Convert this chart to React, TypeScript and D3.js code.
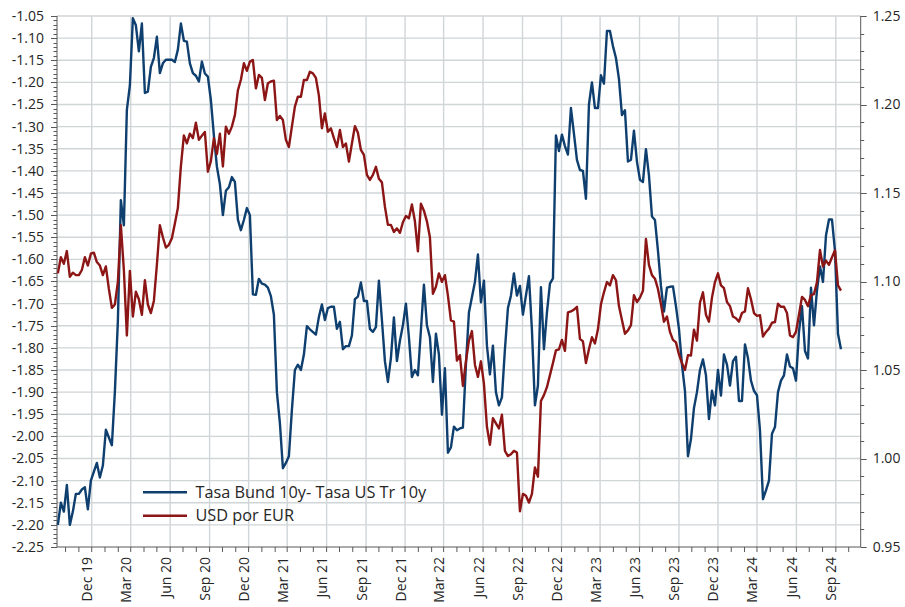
import * as d3 from "d3";
import { useEffect, useRef } from "react";

// weekly observations, week 0 = 13 Sep 2019
const START = new Date(2019, 8, 13);

// Tasa Bund 10y - Tasa US Tr 10y  [week, value]
const spread: [number, number][] = [
  [0,-2.20],[1,-2.15],[2,-2.17],[3,-2.11],[4,-2.20],[5,-2.17],[6,-2.13],[7,-2.13],[8,-2.12],[9,-2.115],
  [10,-2.165],[11,-2.10],[13,-2.06],[14,-2.093],[15,-2.066],[16,-1.985],[18,-2.02],[19,-1.90],[20,-1.74],
  [21,-1.466],[22,-1.523],[23,-1.262],[24,-1.207],[25,-1.055],[26,-1.071],[27,-1.13],[28,-1.067],[29,-1.224],
  [30,-1.221],[31,-1.165],[32,-1.145],[33,-1.097],[34,-1.179],[35,-1.157],[36,-1.149],[38,-1.149],[39,-1.154],
  [40,-1.126],[41,-1.067],[42,-1.106],[43,-1.108],[44,-1.157],[45,-1.179],[46,-1.185],[47,-1.198],[48,-1.153],
  [49,-1.18],[50,-1.187],[51,-1.24],[52,-1.32],[53,-1.39],[54,-1.43],[55,-1.50],[56,-1.445],[57,-1.437],
  [58,-1.414],[59,-1.425],[60,-1.51],[61,-1.534],[62,-1.511],[63,-1.484],[64,-1.50],[65,-1.679],[66,-1.68],
  [67,-1.644],[68,-1.655],[69,-1.657],[70,-1.664],[71,-1.683],[72,-1.725],[73,-1.90],[74,-1.97],[75,-2.072],
  [76,-2.06],[77,-2.045],[78,-1.94],[79,-1.85],[80,-1.838],[81,-1.85],[82,-1.815],[83,-1.751],[84,-1.758],
  [86,-1.77],[87,-1.73],[88,-1.702],[89,-1.737],[90,-1.71],[91,-1.707],[92,-1.707],[93,-1.757],[94,-1.741],
  [95,-1.803],[96,-1.796],[97,-1.796],[98,-1.772],[99,-1.69],[100,-1.684],[101,-1.652],[102,-1.694],[103,-1.694],
  [104,-1.757],[105,-1.764],[106,-1.753],[107,-1.648],[108,-1.737],[109,-1.83],[110,-1.877],[111,-1.823],
  [112,-1.731],[113,-1.83],[114,-1.784],[115,-1.749],[116,-1.70],[117,-1.776],[118,-1.866],[119,-1.85],
  [120,-1.862],[121,-1.76],[122,-1.657],[123,-1.749],[124,-1.776],[125,-1.877],[126,-1.768],[127,-1.815],
  [128,-1.951],[129,-1.846],[130,-2.037],[131,-2.025],[132,-1.978],[133,-1.986],[134,-1.982],[135,-1.98],
  [136,-1.838],[137,-1.72],[139,-1.651],[140,-1.589],[141,-1.697],[142,-1.648],[143,-1.795],[144,-1.86],
  [145,-1.795],[146,-1.90],[147,-1.93],[148,-1.912],[149,-1.803],[150,-1.71],[151,-1.682],[152,-1.632],
  [153,-1.682],[154,-1.66],[155,-1.725],[156,-1.682],[157,-1.638],[158,-1.76],[159,-1.93],[160,-1.885],
  [161,-1.663],[162,-1.803],[163,-1.72],[164,-1.655],[165,-1.643],[166,-1.32],[167,-1.355],[168,-1.318],
  [169,-1.344],[170,-1.363],[171,-1.258],[172,-1.316],[173,-1.375],[174,-1.398],[175,-1.40],[176,-1.463],
  [177,-1.25],[178,-1.20],[179,-1.258],[180,-1.258],[181,-1.184],[182,-1.203],[183,-1.084],[184,-1.084],
  [185,-1.118],[186,-1.145],[187,-1.192],[188,-1.274],[189,-1.263],[190,-1.379],[191,-1.375],[192,-1.309],
  [193,-1.379],[194,-1.42],[195,-1.425],[196,-1.351],[197,-1.41],[198,-1.503],[199,-1.511],[200,-1.58],
  [201,-1.66],[202,-1.718],[203,-1.664],[204,-1.662],[205,-1.661],[206,-1.706],[207,-1.757],[208,-1.838],
  [209,-1.897],[210,-2.045],[211,-2.006],[212,-1.936],[213,-1.90],[214,-1.85],[215,-1.826],[216,-1.862],
  [217,-1.961],[218,-1.897],[219,-1.93],[220,-1.85],[221,-1.908],[222,-1.815],[223,-1.838],[224,-1.885],
  [225,-1.83],[226,-1.82],[227,-1.92],[228,-1.92],[229,-1.792],[230,-1.823],[231,-1.874],[232,-1.897],
  [233,-1.907],[234,-1.986],[235,-2.142],[236,-2.122],[237,-2.10],[238,-1.994],[239,-1.979],[240,-1.90],
  [241,-1.874],[242,-1.862],[243,-1.815],[244,-1.842],[245,-1.846],[246,-1.874],[247,-1.764],[248,-1.706],
  [249,-1.807],[250,-1.824],[251,-1.664],[252,-1.749],[253,-1.67],[254,-1.616],[255,-1.651],[256,-1.546],
  [257,-1.51],[258,-1.51],[259,-1.581],[260,-1.768],[261,-1.803],
];

// USD por EUR  [week, value]
const eurusd: [number, number][] = [
  [0,1.1046],[1,1.1137],[2,1.110],[3,1.1172],[4,1.1026],[5,1.105],[6,1.1036],[7,1.1036],[8,1.1065],[9,1.1137],
  [10,1.109],[11,1.1157],[12,1.1163],[13,1.111],[14,1.109],[15,1.1036],[16,1.1085],[17,1.0958],[18,1.0851],
  [19,1.087],[20,1.0997],[21,1.1318],[22,1.1065],[23,1.0695],[24,1.106],[25,1.0802],[26,1.0942],[27,1.09],
  [28,1.0812],[29,1.1007],[30,1.087],[31,1.0822],[32,1.089],[33,1.1094],[34,1.1318],[35,1.125],[36,1.1192],
  [37,1.1207],[38,1.1244],[39,1.1328],[40,1.1416],[41,1.165],[42,1.1825],[43,1.178],[44,1.1835],[45,1.181],
  [46,1.1897],[47,1.18],[48,1.1824],[49,1.1845],[50,1.162],[51,1.168],[52,1.181],[53,1.172],[54,1.1835],
  [55,1.165],[56,1.1875],[57,1.1835],[58,1.1875],[59,1.194],[60,1.208],[61,1.214],[62,1.2233],[63,1.219],
  [64,1.2242],[65,1.2251],[66,1.2091],[67,1.2167],[68,1.215],[69,1.2025],[70,1.212],[71,1.213],[72,1.2135],
  [73,1.1912],[74,1.1935],[75,1.1912],[76,1.18],[77,1.176],[78,1.1875],[79,1.1988],[80,1.2044],[81,1.2044],
  [82,1.2138],[83,1.2138],[84,1.2185],[85,1.2176],[86,1.215],[87,1.205],[88,1.1866],[89,1.195],[90,1.1846],
  [91,1.1865],[92,1.181],[93,1.176],[94,1.1856],[95,1.176],[96,1.178],[97,1.1677],[98,1.178],[99,1.1878],
  [100,1.184],[101,1.1743],[102,1.1715],[103,1.1602],[104,1.1574],[105,1.1602],[106,1.1648],[107,1.158],
  [108,1.156],[109,1.1423],[110,1.132],[111,1.132],[112,1.128],[113,1.130],[114,1.1275],[115,1.1335],
  [116,1.137],[117,1.1357],[118,1.1435],[119,1.134],[120,1.117],[121,1.144],[122,1.140],[123,1.134],
  [124,1.125],[125,1.093],[126,1.097],[127,1.1046],[128,1.0998],[129,1.1036],[130,1.092],[131,1.078],
  [132,1.0773],[133,1.0553],[134,1.0584],[135,1.041],[136,1.0549],[137,1.0666],[138,1.072],[139,1.053],
  [140,1.0461],[141,1.0549],[142,1.0423],[143,1.0179],[144,1.0078],[145,1.0228],[146,1.0199],[147,1.017],
  [148,1.0247],[149,1.0043],[150,1.0014],[151,1.0024],[152,1.0043],[153,1.0034],[154,0.9702],[155,0.98],
  [156,0.979],[157,0.9751],[158,0.98],[159,0.995],[160,0.9897],[161,1.0325],[162,1.0358],[163,1.0403],
  [164,1.0471],[165,1.0539],[166,1.0611],[167,1.0617],[168,1.067],[169,1.0608],[170,1.0826],[171,1.0831],
  [172,1.0841],[173,1.0857],[174,1.0676],[175,1.0662],[176,1.0539],[177,1.0617],[178,1.0685],[179,1.065],
  [180,1.073],[181,1.0871],[182,1.0939],[183,1.0997],[184,1.0978],[185,1.1036],[186,1.1007],[187,1.0861],
  [188,1.0783],[189,1.0705],[190,1.0724],[191,1.0754],[192,1.0923],[193,1.0884],[194,1.0909],[195,1.0948],
  [196,1.124],[197,1.1094],[198,1.1036],[199,1.1016],[200,1.0958],[201,1.0871],[202,1.0773],[203,1.0802],
  [204,1.0715],[205,1.067],[206,1.0656],[207,1.0588],[208,1.0539],[209,1.05],[210,1.0584],[211,1.0582],
  [212,1.0728],[213,1.0666],[214,1.088],[215,1.0939],[216,1.0812],[217,1.0773],[218,1.0909],[219,1.0997],
  [220,1.1046],[221,1.0978],[222,1.0962],[223,1.0884],[224,1.0861],[225,1.0802],[226,1.0792],[227,1.0773],
  [228,1.0822],[229,1.0831],[230,1.0962],[231,1.09],[232,1.0822],[233,1.0806],[234,1.081],[235,1.0689],
  [236,1.0715],[237,1.0734],[238,1.0767],[239,1.0771],[240,1.0874],[241,1.0857],[242,1.0857],[243,1.0822],
  [244,1.0695],[245,1.0686],[246,1.0715],[247,1.0812],[248,1.0913],[249,1.0896],[250,1.0861],[251,1.0923],
  [252,1.0929],[253,1.0997],[254,1.1178],[255,1.1085],[256,1.1118],[257,1.1094],[258,1.1137],[259,1.1176],
  [260,1.0978],[261,1.0948],
];

const seriesNames = ["Tasa Bund 10y- Tasa US Tr 10y", "USD por EUR"];
const monthNames = ["Jan", "Feb", "Mar", "Apr", "May", "Jun", "Jul", "Aug", "Sep", "Oct", "Nov", "Dec"];

const BLUE = "#0e3f6f";
const RED = "#8c1515";
const GRID = "#d0d5d8";
const AXIS = "#595959";
const FONT = "'Open Sans', sans-serif";

export default function App() {
  const ref = useRef<SVGSVGElement>(null);
  const width = 905;
  const height = 607;
  const margin = { top: 16, right: 44.3, bottom: 60, left: 57 };

  useEffect(() => {
    const svg = d3.select(ref.current);
    svg.selectAll("*").remove();

    const x = d3
      .scaleTime()
      .domain([new Date(2019, 8, 11), new Date(2024, 9, 29)])
      .range([margin.left, width - margin.right]);
    const yL = d3.scaleLinear().domain([-2.25, -1.05]).range([height - margin.bottom, margin.top]);
    const yR = d3.scaleLinear().domain([0.95, 1.25]).range([height - margin.bottom, margin.top]);
    const bottom = height - margin.bottom;
    const left = margin.left;
    const right = width - margin.right;

    const date = (w: number) => d3.timeWeek.offset(START, w);
    const months = d3.timeMonth.range(new Date(2019, 9, 1), new Date(2024, 9, 2));
    const quarters = months.filter((m) => m.getMonth() % 3 === 2);

    const g = svg.append("g");

    // gridlines
    const leftTicks = d3.range(0, 25).map((i) => -2.25 + i * 0.05);
    g.selectAll(".hgrid")
      .data(leftTicks.slice(1))
      .join("line")
      .attr("x1", left)
      .attr("x2", right)
      .attr("y1", (d) => yL(d))
      .attr("y2", (d) => yL(d))
      .attr("stroke", GRID)
      .attr("stroke-width", 1.4);
    g.selectAll(".vgrid")
      .data(quarters)
      .join("line")
      .attr("x1", (d) => x(d))
      .attr("x2", (d) => x(d))
      .attr("y1", margin.top)
      .attr("y2", bottom)
      .attr("stroke", GRID)
      .attr("stroke-width", 1.4);

    // axes
    const ax = svg.append("g").attr("stroke", AXIS).attr("stroke-width", 1);
    ax.append("line").attr("x1", left).attr("x2", left).attr("y1", margin.top).attr("y2", bottom);
    ax.append("line").attr("x1", right).attr("x2", right).attr("y1", margin.top).attr("y2", bottom);
    ax.append("line").attr("x1", left).attr("x2", right).attr("y1", bottom).attr("y2", bottom);

    const leftMinor = d3.range(0, 121).map((i) => -2.25 + i * 0.01);
    ax.selectAll(".lminor")
      .data(leftMinor)
      .join("line")
      .attr("x1", (_, i) => left - (i % 5 === 0 ? 6 : 3.5))
      .attr("x2", left)
      .attr("y1", (d) => Math.round(yL(d)) + 0.5)
      .attr("y2", (d) => Math.round(yL(d)) + 0.5);
    const rightMinor = d3.range(0, 31).map((i) => 0.95 + i * 0.01);
    ax.selectAll(".rminor")
      .data(rightMinor)
      .join("line")
      .attr("x1", right)
      .attr("x2", (_, i) => right + (i % 5 === 0 ? 6 : 3.5))
      .attr("y1", (d) => Math.round(yR(d)) + 0.5)
      .attr("y2", (d) => Math.round(yR(d)) + 0.5);
    ax.selectAll(".xtick")
      .data(months)
      .join("line")
      .attr("x1", (d) => x(d))
      .attr("x2", (d) => x(d))
      .attr("y1", bottom)
      .attr("y2", bottom + 5);

    const txt = svg.append("g").attr("font-family", FONT).attr("font-size", 14).attr("fill", "#262626");
    txt.selectAll(".lt")
      .data(leftTicks)
      .join("text")
      .attr("x", left - 13)
      .attr("y", (d) => yL(d))
      .attr("dy", "0.35em")
      .attr("text-anchor", "end")
      .text((d) => d3.format(".2f")(d).replace("−", "-"));
    const rightTicks = d3.range(0, 7).map((i) => 0.95 + i * 0.05);
    txt.selectAll(".rt")
      .data(rightTicks)
      .join("text")
      .attr("x", right + 12)
      .attr("y", (d) => yR(d))
      .attr("dy", "0.35em")
      .text((d) => d3.format(".2f")(d));
    txt.selectAll(".xt")
      .data(quarters)
      .join("text")
      .attr("transform", (d) => `translate(${x(d) + 0.5},${bottom + 10}) rotate(-90)`)
      .attr("text-anchor", "end")
      .text((d) => `${monthNames[d.getMonth()]} ${String(d.getFullYear()).slice(2)}`);

    // lines
    const lineL = d3
      .line<[number, number]>()
      .x((d) => x(date(d[0])))
      .y((d) => yL(d[1]));
    const lineR = d3
      .line<[number, number]>()
      .x((d) => x(date(d[0])))
      .y((d) => yR(d[1]));
    svg.append("path")
      .datum(spread)
      .attr("d", lineL)
      .attr("fill", "none")
      .attr("stroke", BLUE)
      .attr("stroke-width", 2.4)
      .attr("stroke-linejoin", "round");
    svg.append("path")
      .datum(eurusd)
      .attr("d", lineR)
      .attr("fill", "none")
      .attr("stroke", RED)
      .attr("stroke-width", 2.4)
      .attr("stroke-linejoin", "round");

    // legend
    const lg = svg.append("g").attr("font-family", FONT).attr("font-size", 16.3).attr("fill", "#262626");
    [BLUE, RED].forEach((c, i) => {
      const yy = 492.3 + i * 23.4;
      lg.append("line").attr("x1", 143).attr("x2", 187).attr("y1", yy).attr("y2", yy).attr("stroke", c).attr("stroke-width", 2.4);
      lg.append("text").attr("x", 195.5).attr("y", yy).attr("dy", "0.35em").text(seriesNames[i]);
    });
  }, []);

  return (
    <svg
      ref={ref}
      width={width}
      height={height}
      style={{ position: "absolute", left: 0, top: 0, background: "#fff" }}
    />
  );
}
